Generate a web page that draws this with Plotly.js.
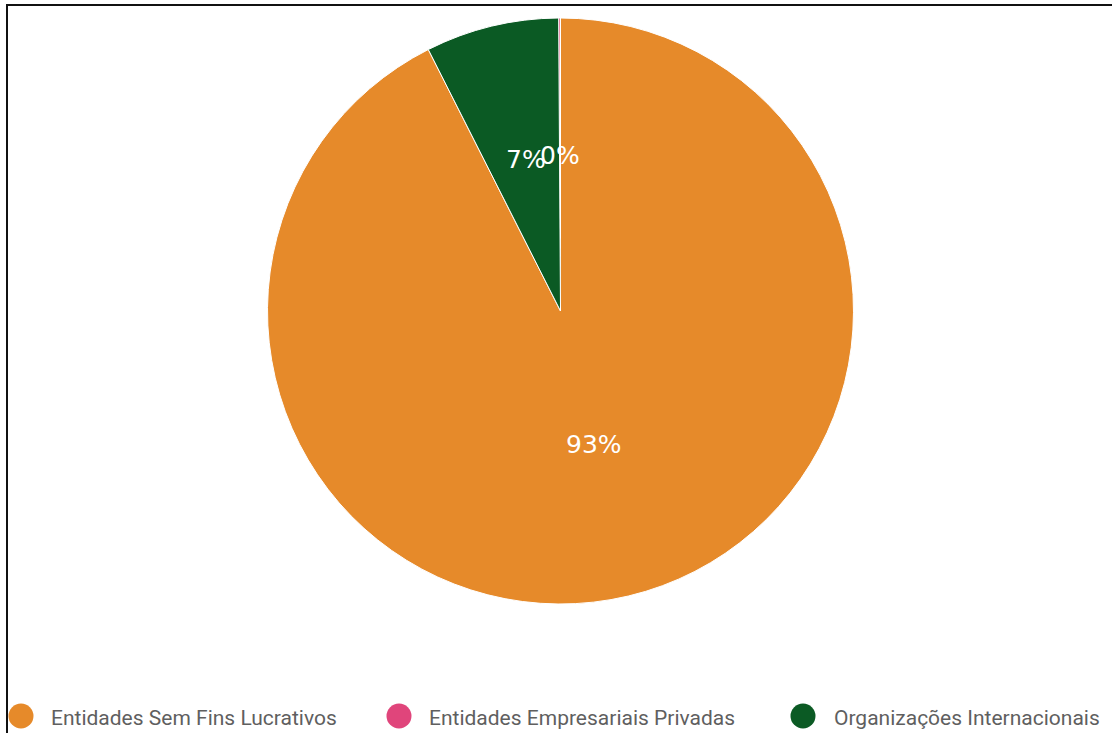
<!DOCTYPE html>
<html>
<head>
<meta charset="utf-8">
<script src="https://cdn.plot.ly/plotly-3.0.1.min.js"></script>
<style>
  html, body { margin: 0; padding: 0; background: #fff; }
  #wrap { position: relative; width: 1112px; height: 733px; overflow: hidden; }
  #chart { position: absolute; left: 0; top: 0; width: 1112px; height: 733px; }
  #frame { position: absolute; left: 6px; top: 4px; width: 1120px; height: 740px;
           border-top: 2px solid #111; border-left: 2px solid #111; pointer-events: none; }
</style>
</head>
<body>
<div id="wrap">
  <div id="chart"></div>
  <div id="frame"></div>
</div>
<script>
// Data
const categories = ["Entidades Sem Fins Lucrativos", "Entidades Empresariais Privadas", "Organizações Internacionais"];
const shares = [92.55, 0.1, 7.35];
const colors = ["#E68A2A", "#E0457B", "#0B5A24"];

const W = 1112, H = 733;
const px = v => v / W;
const py = v => 1 - v / H;

// Pie geometry (layout)
const cx = 560.5, cy = 311, R = 293;

const trace = {
  type: "pie",
  labels: categories,
  values: shares,
  sort: false,
  direction: "counterclockwise",
  rotation: 0,
  marker: { colors: colors, line: { color: "#ffffff", width: 1 } },
  textinfo: "none",
  hoverinfo: "label+percent",
  showlegend: false,
  domain: { x: [px(cx - R), px(cx + R)], y: [py(cy + R), py(cy - R)] }
};

// Percent labels placed at half radius on each slice's mid angle (derived from the data)
const total = shares.reduce((a, b) => a + b, 0);
const annotations = [];
// first slice: clockwise from 0 (plotly counterclockwise convention), following slices go counterclockwise from 0
let angles = [];
{
  const a0 = shares[0] / total * 360;
  angles.push(a0 / 2);
  let cur = 0;
  for (let i = 1; i < shares.length; i++) {
    const a = shares[i] / total * 360;
    angles.push(cur - a / 2);
    cur -= a;
  }
}
shares.forEach((v, i) => {
  const ang = angles[i] * Math.PI / 180;
  const x = cx + 0.5 * R * Math.sin(ang);
  const yBase = cy - 0.5 * R * Math.cos(ang);
  annotations.push({
    xref: "paper", yref: "paper", x: px(x), y: py(yBase - 9),
    xanchor: "center", yanchor: "middle", showarrow: false,
    text: Math.round(v / total * 100) + "%",
    font: { family: "DejaVu Sans, sans-serif", size: 25, color: "#ffffff" }
  });
});

// Custom legend (circles + text)
const legendCircleX = [21, 399, 803];
const legendTextX = [49, 427, 832];
const legendY = 716;
const shapes = [];
categories.forEach((c, i) => {
  shapes.push({
    type: "circle", xref: "paper", yref: "paper",
    xsizemode: "pixel", ysizemode: "pixel",
    xanchor: px(legendCircleX[i]), yanchor: py(legendY),
    x0: -12.5, x1: 12.5, y0: -12.5, y1: 12.5,
    fillcolor: colors[i], line: { width: 0 }
  });
  annotations.push({
    xref: "paper", yref: "paper", x: px(legendTextX[i]), y: py(legendY + 2),
    xanchor: "left", yanchor: "middle", showarrow: false,
    text: c, font: { family: "Roboto, sans-serif", size: 21, color: "#5f5f5f" }
  });
});

const layout = {
  width: W, height: H,
  margin: { l: 0, r: 0, t: 0, b: 0 },
  paper_bgcolor: "#ffffff",
  showlegend: false,
  shapes: shapes,
  annotations: annotations
};

Plotly.newPlot("chart", [trace], layout, { displayModeBar: false, staticPlot: true });
</script>
</body>
</html>
